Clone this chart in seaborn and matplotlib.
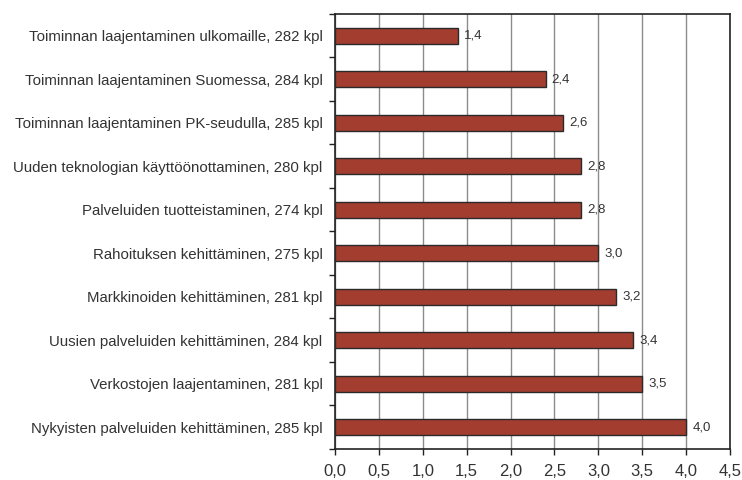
import seaborn as sns
import matplotlib.pyplot as plt
import pandas as pd
import numpy as np
from matplotlib.ticker import FixedLocator

# Data (top to bottom)
categories = [
    'Toiminnan laajentaminen ulkomaille, 282 kpl',
    'Toiminnan laajentaminen Suomessa, 284 kpl',
    'Toiminnan laajentaminen PK-seudulla, 285 kpl',
    'Uuden teknologian käyttöönottaminen, 280 kpl',
    'Palveluiden tuotteistaminen, 274 kpl',
    'Rahoituksen kehittäminen, 275 kpl',
    'Markkinoiden kehittäminen, 281 kpl',
    'Uusien palveluiden kehittäminen, 284 kpl',
    'Verkostojen laajentaminen, 281 kpl',
    'Nykyisten palveluiden kehittäminen, 285 kpl',
]
values = [1.4, 2.4, 2.6, 2.8, 2.8, 3.0, 3.2, 3.4, 3.5, 4.0]
x_ticks = [0.0, 0.5, 1.0, 1.5, 2.0, 2.5, 3.0, 3.5, 4.0, 4.5]

df = pd.DataFrame({'kategoria': categories, 'arvo': values})

sns.set_style('white')
plt.rcParams['font.family'] = ['Liberation Sans', 'DejaVu Sans']

fig = plt.figure(figsize=(7.42, 4.8), dpi=100)
ax = fig.add_axes([335 / 742, 1 - 449 / 480, 395 / 742, 435 / 480])

sns.barplot(data=df, x='arvo', y='kategoria', order=categories, orient='h',
            color='#A33D2F', saturation=1, width=0.37,
            edgecolor='#2a2a2a', linewidth=1.0, ax=ax, zorder=3)

# value labels with decimal comma
for i, v in enumerate(values):
    ax.text(v + 0.07, i, f'{v:.1f}'.replace('.', ','), va='center', ha='left',
            fontsize=9.5, color='#333333')

ax.set_xlim(0, 4.5)
ax.set_ylim(len(categories) - 0.5, -0.5)
ax.set_xticks(x_ticks)
ax.set_xticklabels([f'{t:.1f}'.replace('.', ',') for t in x_ticks], fontsize=12, color='#333333')
ax.tick_params(axis='x', direction='out', length=4, width=1, color='#222222', pad=7, bottom=True)

ax.tick_params(axis='y', which='major', length=0, pad=9, labelsize=10.8, labelcolor='#333333')
ax.yaxis.set_minor_locator(FixedLocator(np.arange(-0.5, len(categories), 1.0)))
ax.tick_params(axis='y', which='minor', direction='out', length=4, width=1, color='#222222', left=True)

ax.grid(axis='x', color='#8c8c8c', linewidth=1.0, zorder=0)
ax.grid(axis='y', visible=False)
ax.set_axisbelow(True)
for s in ax.spines.values():
    s.set_visible(True)
    s.set_color('#222222')
    s.set_linewidth(1.2)

ax.set_xlabel('')
ax.set_ylabel('')

plt.savefig('out.png', dpi=100)
